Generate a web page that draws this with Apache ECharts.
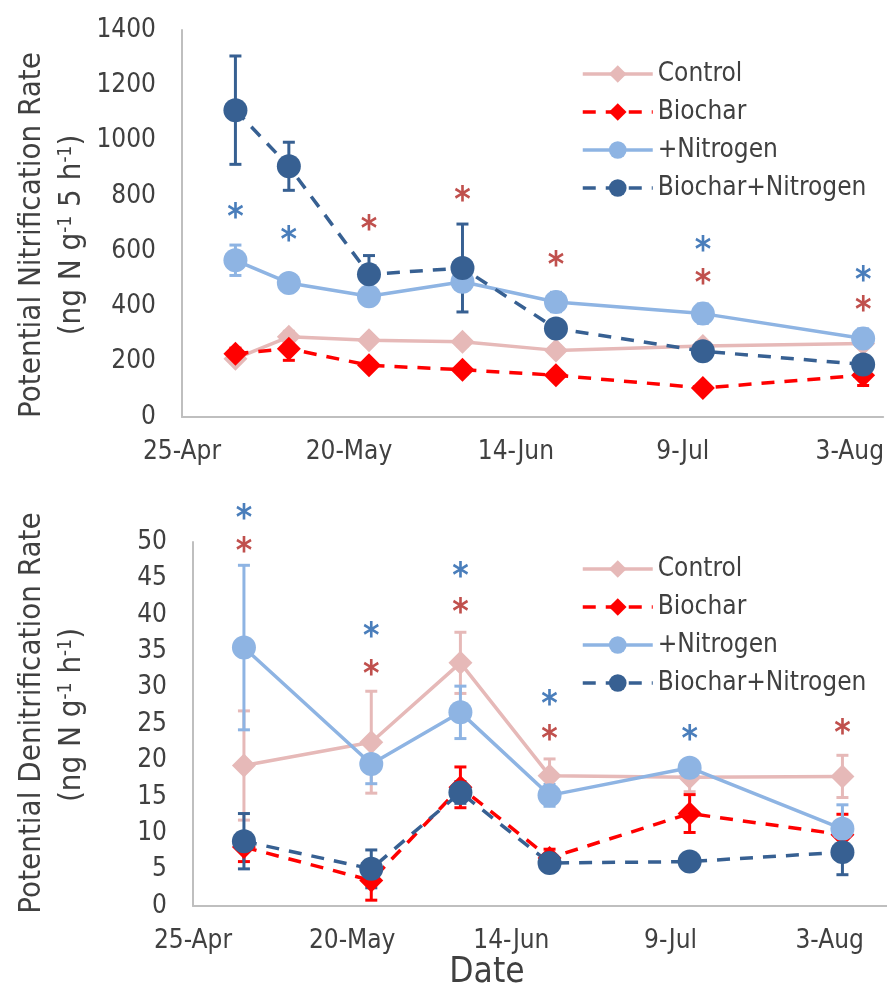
<!DOCTYPE html>
<html>
<head>
<meta charset="utf-8">
<script src="https://cdn.jsdelivr.net/npm/echarts@6/dist/echarts.min.js"></script>
<style>
html,body{margin:0;padding:0;background:#fff}
#chart{width:887px;height:996px}
</style>
</head>
<body>
<div id="chart"></div>
<script>
// x = days after 25-Apr
var xTickLabels = ['25-Apr', '20-May', '14-Jun', '9-Jul', '3-Aug'];
var seriesNames = ['Control', 'Biochar', '+Nitrogen', 'Biochar+Nitrogen'];

// potential nitrification (top)
var nitDays = [8, 16, 28, 42, 56, 78, 102];
var nitControl = [211, 290, 278, 272, 241, 257, 266];
var nitControlErr = [15, 20, 15, 15, 15, 15, 15];
var nitBiochar = [229, 247, 187, 171, 151, 105, 151];
var nitBiocharErr = [20, 42, 15, 15, 15, 15, 37];
var nitNitrogen = [567, 485, 437, 489, 416, 374, 284];
var nitNitrogenErr = [55, 25, 25, 30, 35, 35, 35];
var nitBoth = [1110, 907, 516, 539, 320, 238, 190];
var nitBothErr = [196, 87, 68, 159, 30, 20, 20];
var nitStarsBlue = [[8, 741], [16, 657], [78, 621], [102, 513]];
var nitStarsRed = [[28, 700], [42, 802], [56, 567], [78, 502], [102, 404]];

// potential denitrification (bottom)
var denDays = [8, 28, 42, 56, 78, 102];
var denControl = [19.3, 22.5, 33.4, 17.9, 17.7, 17.8];
var denControlErr = [7.5, 7, 4.2, 2.3, 2, 2.9];
var denBiochar = [8.1, 3.5, 16.3, 6.6, 12.7, 9.8];
var denBiocharErr = [2, 2.7, 2.8, 1.2, 2.6, 2.8];
var denNitrogen = [35.5, 19.5, 26.6, 15.2, 19.0, 10.6];
var denNitrogenErr = [11.3, 2.7, 3.6, 1.5, 1, 3.3];
var denBoth = [8.9, 5.1, 15.6, 5.9, 6.1, 7.4];
var denBothErr = [3.8, 2.6, 1.5, 0.5, 0.5, 3.1];
var denStarsBlue = [[8, 54.0], [28, 37.8], [42, 46.0], [56, 28.4], [78, 23.6]];
var denStarsRed = [[8, 49.4], [28, 32.5], [42, 41.1], [56, 23.6], [102, 24.5]];

var FONT = '"DejaVu Sans Condensed", "DejaVu Sans", sans-serif';
var TXT = '#404040';
var colors = ['#e6b9b8', '#ff0000', '#8eb4e3', '#376092'];
var symbols = ['diamond', 'diamond', 'circle', 'circle'];
var dashed = [false, true, false, true];

function pairs(days, vals) {
    return days.map(function (d, i) { return [d, vals[i]]; });
}

function errSeries(idx, days, vals, errs, color) {
    return {
        type: 'custom',
        name: 'err' + idx,
        xAxisIndex: idx, yAxisIndex: idx,
        silent: true,
        data: days.map(function (d, i) { return [d, vals[i] - errs[i], vals[i] + errs[i]]; }),
        encode: {x: 0, y: [1, 2]},
        renderItem: function (params, api) {
            var top = api.coord([api.value(0), api.value(2)]);
            var bot = api.coord([api.value(0), api.value(1)]);
            var w = 6;
            var st = {stroke: color, lineWidth: 3};
            return {type: 'group', children: [
                {type: 'line', shape: {x1: top[0], y1: top[1], x2: bot[0], y2: bot[1]}, style: st},
                {type: 'line', shape: {x1: top[0] - w, y1: top[1], x2: top[0] + w, y2: top[1]}, style: st},
                {type: 'line', shape: {x1: bot[0] - w, y1: bot[1], x2: bot[0] + w, y2: bot[1]}, style: st}
            ]};
        }
    };
}

function lineSeries(idx, k, days, vals) {
    return {
        type: 'line',
        name: seriesNames[k],
        xAxisIndex: idx, yAxisIndex: idx,
        data: pairs(days, vals),
        symbol: symbols[k],
        symbolSize: 24,
        color: colors[k],
        itemStyle: {color: colors[k]},
        lineStyle: {color: colors[k], width: 3.5, type: dashed[k] ? [13, 10] : 'solid'},
        emphasis: {disabled: true}
    };
}

// significance asterisks, drawn as text at data positions
function starSeries(idx, data, color) {
    return {
        type: 'custom',
        name: 'star',
        xAxisIndex: idx, yAxisIndex: idx,
        data: data,
        silent: true,
        renderItem: function (params, api) {
            var p = api.coord([api.value(0), api.value(1)]);
            return {type: 'text', x: p[0], y: p[1] + 7,
                style: {text: '*', fill: color, fontSize: 35, fontWeight: 'bold', fontFamily: FONT,
                    align: 'center', verticalAlign: 'middle'}};
        }
    };
}

function panel(idx, days, vals, errs) {
    var out = [];
    for (var k = 0; k < 4; k++) {
        out.push(errSeries(idx, days, vals[k], errs[k], colors[k]));
        out.push(lineSeries(idx, k, days, vals[k]));
    }
    return out;
}

var series = []
    .concat(panel(0, nitDays, [nitControl, nitBiochar, nitNitrogen, nitBoth],
        [nitControlErr, nitBiocharErr, nitNitrogenErr, nitBothErr]))
    .concat(panel(1, denDays, [denControl, denBiochar, denNitrogen, denBoth],
        [denControlErr, denBiocharErr, denNitrogenErr, denBothErr]));
series.push(starSeries(0, nitStarsBlue, '#4a7ebb'));
series.push(starSeries(0, nitStarsRed, '#c0504d'));
series.push(starSeries(1, denStarsBlue, '#4a7ebb'));
series.push(starSeries(1, denStarsRed, '#c0504d'));

var axisLine = {show: true, lineStyle: {color: '#bfbfbf', width: 2}};

function xAxis(idx, max) {
    return {
        type: 'value', gridIndex: idx, min: 0, max: max, interval: 25,
        axisLine: axisLine, axisTick: {show: false}, splitLine: {show: false},
        axisLabel: {color: TXT, fontSize: 26, fontFamily: FONT, margin: 22, showMaxLabel: false,
            formatter: function (v) { return v % 25 === 0 ? (xTickLabels[v / 25] || '') : ''; }}
    };
}
function yAxis(idx, max, interval) {
    return {
        type: 'value', gridIndex: idx, min: 0, max: max, interval: interval,
        axisLine: axisLine, axisTick: {show: false}, splitLine: {show: false},
        axisLabel: {color: TXT, fontSize: 26, fontFamily: FONT, margin: 26,
            formatter: function (v) { return String(v); }}
    };
}

function legend(top) {
    return {
        data: seriesNames, orient: 'vertical', left: 576, top: top,
        itemWidth: 70, itemHeight: 22, itemGap: 12, selectedMode: false,
        lineStyle: {width: 3.5},
        textStyle: {color: TXT, fontSize: 26, lineHeight: 26, fontFamily: FONT}
    };
}

function vText(x, y, text, size) {
    return {
        type: 'text', x: x, y: y, rotation: Math.PI / 2,
        style: {text: text, fill: TXT, fontSize: size, fontFamily: FONT,
            align: 'center', verticalAlign: 'middle',
            rich: {s: {fontSize: 19, fontFamily: FONT, fill: TXT, verticalAlign: 'top', lineHeight: 30}}}
    };
}

var chart = echarts.init(document.getElementById('chart'));
chart.setOption({
    animation: false,
    textStyle: {fontFamily: FONT},
    grid: [
        {left: 182, top: 30, width: 705, height: 387},
        {left: 193, top: 542, width: 694, height: 364}
    ],
    xAxis: [xAxis(0, 105), xAxis(1, 109)],
    yAxis: [yAxis(0, 1400, 200), yAxis(1, 50, 5)],
    legend: [legend(56), legend(551)],
    graphic: [
        vText(32, 235, 'Potential Nitrification Rate', 31),
        vText(72, 235, '(ng N g{s|-1} 5 h{s|-1})', 31),
        vText(32, 713, 'Potential Denitrification Rate', 31),
        vText(72, 715, '(ng N g{s|-1} h{s|-1})', 31),
        {type: 'text', x: 487, y: 973,
            style: {text: 'Date', fill: TXT, fontSize: 35, fontFamily: FONT, align: 'center', verticalAlign: 'middle'}}
    ],
    series: series
});
</script>
</body>
</html>
